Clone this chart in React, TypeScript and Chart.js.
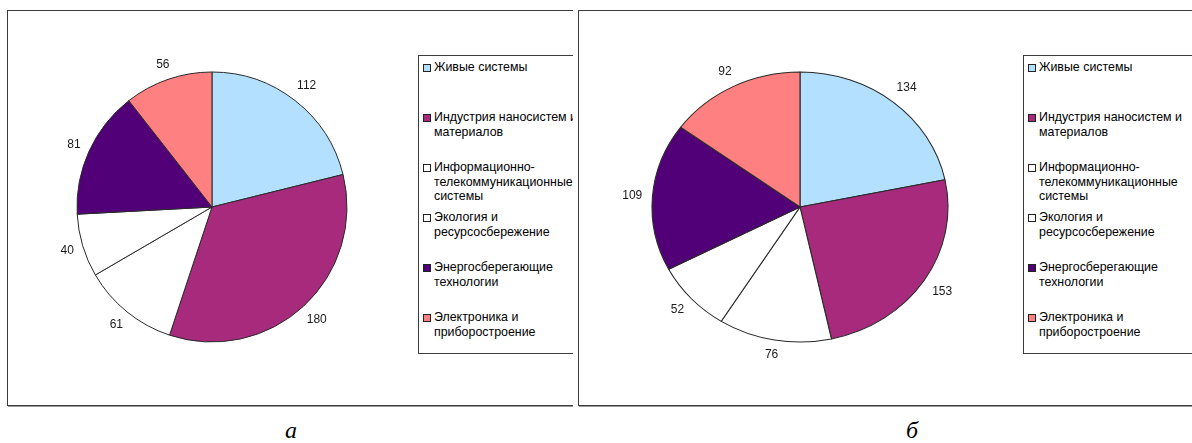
import React, { useEffect, useRef } from "react";
import { Chart, registerables } from "chart.js";

Chart.register(...registerables);

// Directions, each as the lines shown in the legend
const categoryLines: string[][] = [
  ["Живые системы"],
  ["Индустрия наносистем и", "материалов"],
  ["Информационно-", "телекоммуникационные", "системы"],
  ["Экология и", "ресурсосбережение"],
  ["Энергосберегающие", "технологии"],
  ["Электроника и", "приборостроение"],
];
const categories = categoryLines.map((l) => l.join(" "));

// Counts for the two periods
const valuesA = [112, 180, 61, 40, 81, 56];
const valuesB = [134, 153, 76, 52, 109, 92];

const sliceColors = ["#B3E0FF", "#A72A7C", "#FFFFFF", "#FFFFFF", "#520078", "#FF8080"];

const captions = ["а", "б"];

const FONT = "'Liberation Sans', Arial, sans-serif";

type PieProps = {
  values: number[];
  left: number;
  top: number;
  width: number;
  height: number;
  radius: number;
  stretchX: number;
};

function PieCanvas({ values, left, top, width, height, radius, stretchX }: PieProps) {
  const ref = useRef<HTMLCanvasElement | null>(null);

  useEffect(() => {
    if (!ref.current) return;

    // Stretches the slices horizontally around the pie centre
    const stretch = {
      id: "stretch",
      beforeDatasetsDraw(chart: any) {
        const arc = chart.getDatasetMeta(0).data[0];
        if (!arc) return;
        const { x, y } = arc.getProps(["x", "y"], true);
        const ctx = chart.ctx;
        ctx.save();
        ctx.translate(x, y);
        ctx.scale(stretchX, 1);
        ctx.translate(-x, -y);
      },
      afterDatasetsDraw(chart: any) {
        chart.ctx.restore();
      },
    };

    // Value labels outside each slice
    const outsideLabels = {
      id: "outsideLabels",
      afterDraw(chart: any) {
        const ctx = chart.ctx;
        const ds = chart.data.datasets[0];
        const meta = chart.getDatasetMeta(0);
        ctx.save();
        ctx.font = `12px ${FONT}`;
        ctx.fillStyle = "#1a1a1a";
        ctx.textAlign = "center";
        ctx.textBaseline = "middle";
        meta.data.forEach((el: any, i: number) => {
          const { x, y, startAngle, endAngle, outerRadius } = el.getProps(
            ["x", "y", "startAngle", "endAngle", "outerRadius"],
            true
          );
          const mid = (startAngle + endAngle) / 2;
          const dx = Math.cos(mid);
          const dy = Math.sin(mid);
          const text = String(ds.data[i]);
          const w = ctx.measureText(text).width;
          const h = 12;
          const off = outerRadius + 8 + Math.abs(dx) * (w / 2) + Math.abs(dy) * (h / 2);
          ctx.fillText(text, x + dx * off * stretchX, y + dy * off);
        });
        ctx.restore();
      },
    };

    const chart = new Chart(ref.current, {
      type: "pie",
      data: {
        labels: categories,
        datasets: [
          {
            data: values,
            backgroundColor: sliceColors,
            borderColor: "#2a2a2a",
            borderWidth: 1,
            radius: radius,
          },
        ],
      },
      options: {
        responsive: false,
        animation: false,
        events: [],
        layout: { padding: 30 },
        plugins: {
          legend: { display: false },
          tooltip: { enabled: false },
        },
      },
      plugins: [stretch, outsideLabels],
    });
    return () => chart.destroy();
  }, [values, radius, stretchX]);

  return (
    <canvas
      ref={ref}
      width={width}
      height={height}
      style={{ position: "absolute", left, top, width, height }}
    />
  );
}

function LegendBox({ left, top }: { left: number; top: number }) {
  return (
    <div
      style={{
        position: "absolute",
        left,
        top,
        width: 260,
        height: 299,
        borderLeft: "1px solid #3c3c3c",
        borderTop: "1px solid #3c3c3c",
        borderBottom: "1px solid #3c3c3c",
        boxSizing: "border-box",
        background: "#fff",
        fontFamily: FONT,
        fontSize: 12.4,
        color: "#000",
      }}
    >
      {categoryLines.map((lines, i) => (
        <div
          key={i}
          style={{
            position: "absolute",
            left: 4,
            top: 4 + i * 50,
            display: "flex",
            alignItems: "flex-start",
            lineHeight: "14.5px",
            whiteSpace: "nowrap",
          }}
        >
          <span
            style={{
              display: "inline-block",
              width: 6,
              height: 6,
              marginTop: 4,
              marginRight: 3,
              border: "1px solid #222",
              background: sliceColors[i],
            }}
          />
          <span>
            {lines.map((t, j) => (
              <div key={j}>{t}</div>
            ))}
          </span>
        </div>
      ))}
    </div>
  );
}

function Panel({
  left,
  width,
  values,
  pieCenterX,
  radius,
  stretchX,
  legendLeft,
}: {
  left: number;
  width: number;
  values: number[];
  pieCenterX: number;
  radius: number;
  stretchX: number;
  legendLeft: number;
}) {
  const cw = 420;
  const ch = 370;
  const cy = 207;
  return (
    <div
      style={{
        position: "absolute",
        left,
        top: 0,
        width,
        height: 443,
        overflow: "hidden",
      }}
    >
      <div
        style={{
          position: "absolute",
          left: 0,
          top: 10,
          width: width + 50,
          height: 396,
          border: "1px solid #3c3c3c",
          boxShadow: "1px 1px 0 #9a9a9a",
          boxSizing: "border-box",
          background: "#fff",
        }}
      />
      <PieCanvas
        values={values}
        left={pieCenterX - cw / 2}
        top={cy - ch / 2}
        width={cw}
        height={ch}
        radius={radius}
        stretchX={stretchX}
      />
      <LegendBox left={legendLeft} top={55} />
    </div>
  );
}

export default function App() {
  return (
    <div
      style={{
        position: "absolute",
        left: 0,
        top: 0,
        width: 1192,
        height: 443,
        overflow: "hidden",
        background: "#fff",
      }}
    >
      <Panel left={7} width={566} values={valuesA} pieCenterX={205} radius={135} stretchX={1} legendLeft={411} />
      <Panel left={578} width={614} values={valuesB} pieCenterX={222} radius={135} stretchX={148 / 135} legendLeft={445} />
      {captions.map((c, i) => (
        <div
          key={c}
          style={{
            position: "absolute",
            left: i === 0 ? 291 : 912,
            top: 418,
            transform: "translateX(-50%)",
            fontFamily: "'Liberation Serif', 'Times New Roman', serif",
            fontStyle: "italic",
            fontSize: 24,
            lineHeight: "24px",
            color: "#000",
          }}
        >
          {c}
        </div>
      ))}
    </div>
  );
}
